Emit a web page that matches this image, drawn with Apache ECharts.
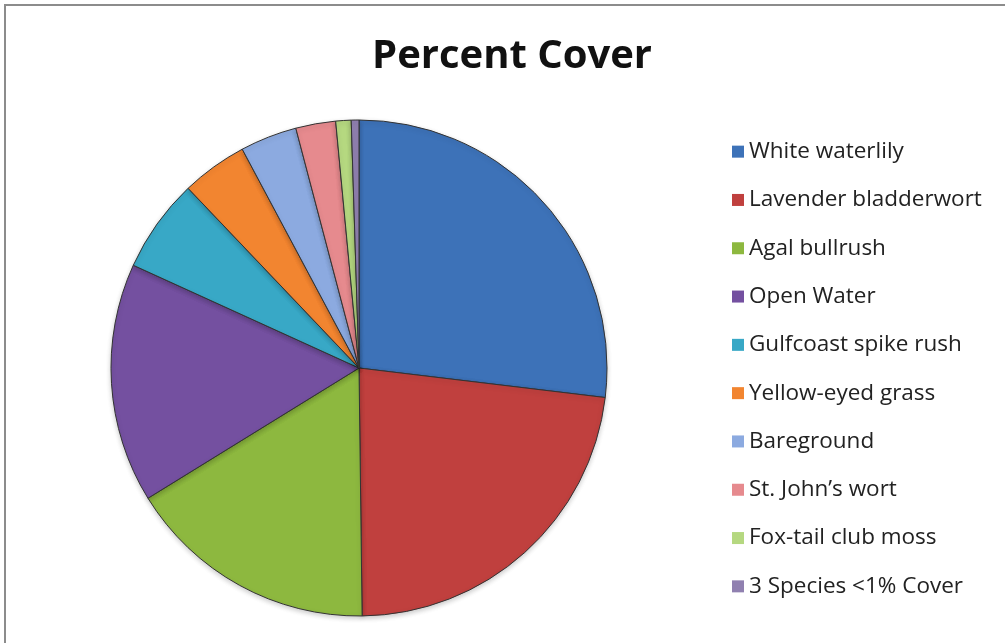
<!DOCTYPE html>
<html>
<head>
<meta charset="utf-8">
<script src="https://cdn.jsdelivr.net/npm/echarts@6/dist/echarts.min.js"></script>
<style>
  html, body { margin: 0; padding: 0; background: #ffffff; }
  #chart { width: 1005px; height: 643px; }
</style>
</head>
<body>
<div id="chart"></div>
<script>
// Percent cover by vegetation class
const categories = [
  'White waterlily',
  'Lavender bladderwort',
  'Agal bullrush',
  'Open Water',
  'Gulfcoast spike rush',
  'Yellow-eyed grass',
  'Bareground',
  'St. John\u2019s wort',
  'Fox-tail club moss',
  '3 Species <1% Cover'
];
const coverValues = [26.9, 22.9, 16.4, 15.6, 6.1, 4.3, 3.7, 2.6, 1.0, 0.5];
const sliceColors = [
  '#3d72b8', '#c0403e', '#8db83f', '#7450a0', '#38a8c6',
  '#f28530', '#8caae0', '#e68a8e', '#b5d880', '#9080b0'
];

const chart = echarts.init(document.getElementById('chart'), null, { renderer: 'canvas' });

const pieData = categories.map((name, i) => ({
  name,
  value: coverValues[i],
  itemStyle: { color: sliceColors[i] }
}));

chart.setOption({
  backgroundColor: '#ffffff',
  animation: false,
  title: {
    text: 'Percent Cover',
    left: 507,
    top: 32,
    textAlign: 'center',
    textStyle: {
      fontFamily: 'Open Sans',
      fontWeight: 'bold',
      fontSize: 40,
      color: '#111111'
    }
  },
  legend: {
    orient: 'vertical',
    left: 727,
    top: 133,
    icon: 'rect',
    itemWidth: 12,
    itemHeight: 12,
    itemGap: 21,
    data: categories.map((name, i) => ({
      name,
      itemStyle: { color: sliceColors[i], borderWidth: 0 }
    })),
    textStyle: {
      fontFamily: 'Open Sans',
      fontSize: 22.5,
      lineHeight: 27.3,
      color: '#222222',
      padding: [0, 0, 0, 0]
    }
  },
  graphic: [
    {
      type: 'rect',
      shape: { x: 5, y: 5, width: 1010, height: 650 },
      style: { fill: 'none', stroke: '#8c8c8c', lineWidth: 2 },
      silent: true
    }
  ],
  series: [
    {
      type: 'pie',
      center: [359, 368],
      radius: 248,
      startAngle: 90,
      clockwise: true,
      label: { show: false },
      labelLine: { show: false },
      emphasis: { disabled: true },
      itemStyle: {
        borderColor: '#333333',
        borderWidth: 1,
        shadowColor: 'rgba(0,0,0,0.2)',
        shadowBlur: 5,
        shadowOffsetY: 2
      },
      data: pieData
    }
  ]
});
</script>
</body>
</html>
